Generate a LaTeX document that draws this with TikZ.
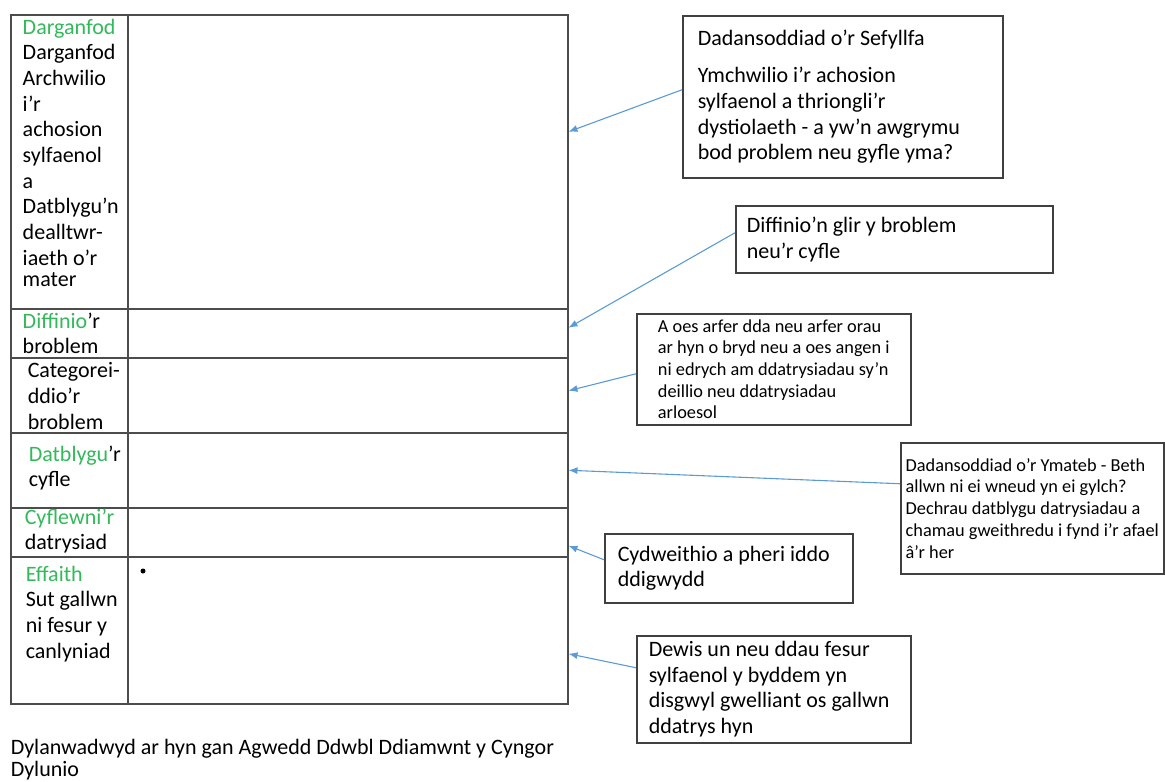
\documentclass[tikz,border=0pt]{standalone}
\usepackage{fontspec}
\setmainfont{Carlito}
\usetikzlibrary{arrows.meta}
\definecolor{gwyrdd}{RGB}{50,185,90}
\definecolor{glas}{RGB}{91,155,213}

\begin{document}
\begin{tikzpicture}[x=1pt, y=-1pt,
        font=\fontsize{22}{25.7}\selectfont, line width=1.5pt,
        execute at begin node={\spaceskip=0pt\xspaceskip=0pt\relax},
        row/.style={draw=black!70, anchor=north west, inner sep=0pt, minimum width=557pt},
        cell/.style={anchor=north west, inner sep=0pt, align=left},
        note/.style={draw=black!75, anchor=north west, align=left, inner ysep=0pt},
        smallnote/.style={font=\fontsize{18.3}{21.7}\selectfont, inner xsep=0pt},
        arr/.style={draw=glas, line width=1.1pt, -{Latex[length=9pt,width=7pt]}}]
    \useasboundingbox (0,0) rectangle (1165,782);
    % tabl
    \node[row, minimum height=294pt] (dar) at (10,14) {};
    \node[row, minimum height=49pt] (dif) at (10,308) {};
    \node[row, minimum height=75pt] (cat) at (10,357) {};
    \node[row, minimum height=75pt] (dat) at (10,432) {};
    \node[row, minimum height=49pt] (cyf) at (10,507) {};
    \node[row, minimum height=147pt] (eff) at (10,556) {};
    \draw[black!70] ([xshift=118pt]dar.north west) -- ([xshift=118pt]eff.south west);
    \node[cell] (dar-t) at (22,18) {\textcolor{gwyrdd}{Darganfod}\\Darganfod\\Archwilio\\i'r\\achosion\\sylfaenol\\a\\Datblygu'n\\dealltwr-\\iaeth o'r\\[-5pt]mater};
    \node[cell] (dif-t) at (22,312) {\textcolor{gwyrdd}{Diffinio}'r\\broblem};
    \node[cell] (cat-t) at (27,362) {Categorei-\\ddio'r\\broblem};
    \node[cell] (dat-t) at (28,445) {\textcolor{gwyrdd}{Datblygu}'r\\cyfle};
    \node[cell] (cyf-t) at (24,508) {\textcolor{gwyrdd}{Cyflewni'r}\\datrysiad};
    \node[cell] (eff-t) at (25,565) {\textcolor{gwyrdd}{Effaith}\\Sut gallwn\\ni fesur y\\canlyniad};
    \fill (143,571) circle (2.5pt);
    % blychau
    \node[note, text width=290pt, inner xsep=15pt, minimum height=162pt]
    (sef) at (682,15) {Dadansoddiad o'r Sefyllfa\\[11.5pt]Ymchwilio i'r achosion\\sylfaenol a thriongli'r\\dystiolaeth - a yw'n awgrymu\\bod problem neu gyfle yma?};
    \node[note, text width=295pt, inner xsep=11pt, minimum height=67pt]
    (glir) at (735,205) {Diffinio'n glir y broblem\\neu'r cyfle};
    \node[note, smallnote, minimum width=274pt, minimum height=111pt]
    (arfer) at (636,313) {A oes arfer dda neu arfer orau\\ar hyn o bryd neu a oes angen i\\ni edrych am ddatrysiadau sy'n\\deillio neu ddatrysiadau\\arloesol};
    \node[note, smallnote, minimum width=263pt, minimum height=131pt]
    (ymat) at (900,442) {Dadansoddiad o'r Ymateb - Beth\\allwn ni ei wneud yn ei gylch?\\Dechrau datblygu datrysiadau a\\chamau gweithredu i fynd i'r afael\\â'r her};
    \node[note, text width=222pt, inner xsep=13pt, minimum height=69pt]
    (cydw) at (604,533) {Cydweithio a pheri iddo\\ddigwydd};
    \node[note, text width=250pt, inner xsep=12pt, minimum height=107pt]
    (dewis) at (636,635) {Dewis un neu ddau fesur\\sylfaenol y byddem yn\\disgwyl gwelliant os gallwn\\ddatrys hyn};
    % saethau
    \draw[arr] ([yshift=7pt]sef.west) -- ([yshift=30pt]dar.east);
    \draw[arr] ([yshift=6.5pt]glir.west) -- ([yshift=5.5pt]dif.east);
    \draw[arr] ([yshift=-4.5pt]arfer.west) -- ([yshift=4.5pt]cat.east);
    \draw[arr] ([yshift=24.5pt]ymat.west) -- (dat.east);
    \draw[arr] ([yshift=8.5pt]cydw.west) -- ([yshift=-13.5pt]cyf.east);
    \draw[arr] ([yshift=21.5pt]dewis.west) -- ([yshift=-23.5pt]eff.east);
    \node[cell, font=\fontsize{22}{22.5}\selectfont] (ffyn) at (10,738) {Dylanwadwyd ar hyn gan Agwedd Ddwbl Ddiamwnt y Cyngor\\Dylunio};
\end{tikzpicture}
\end{document}
